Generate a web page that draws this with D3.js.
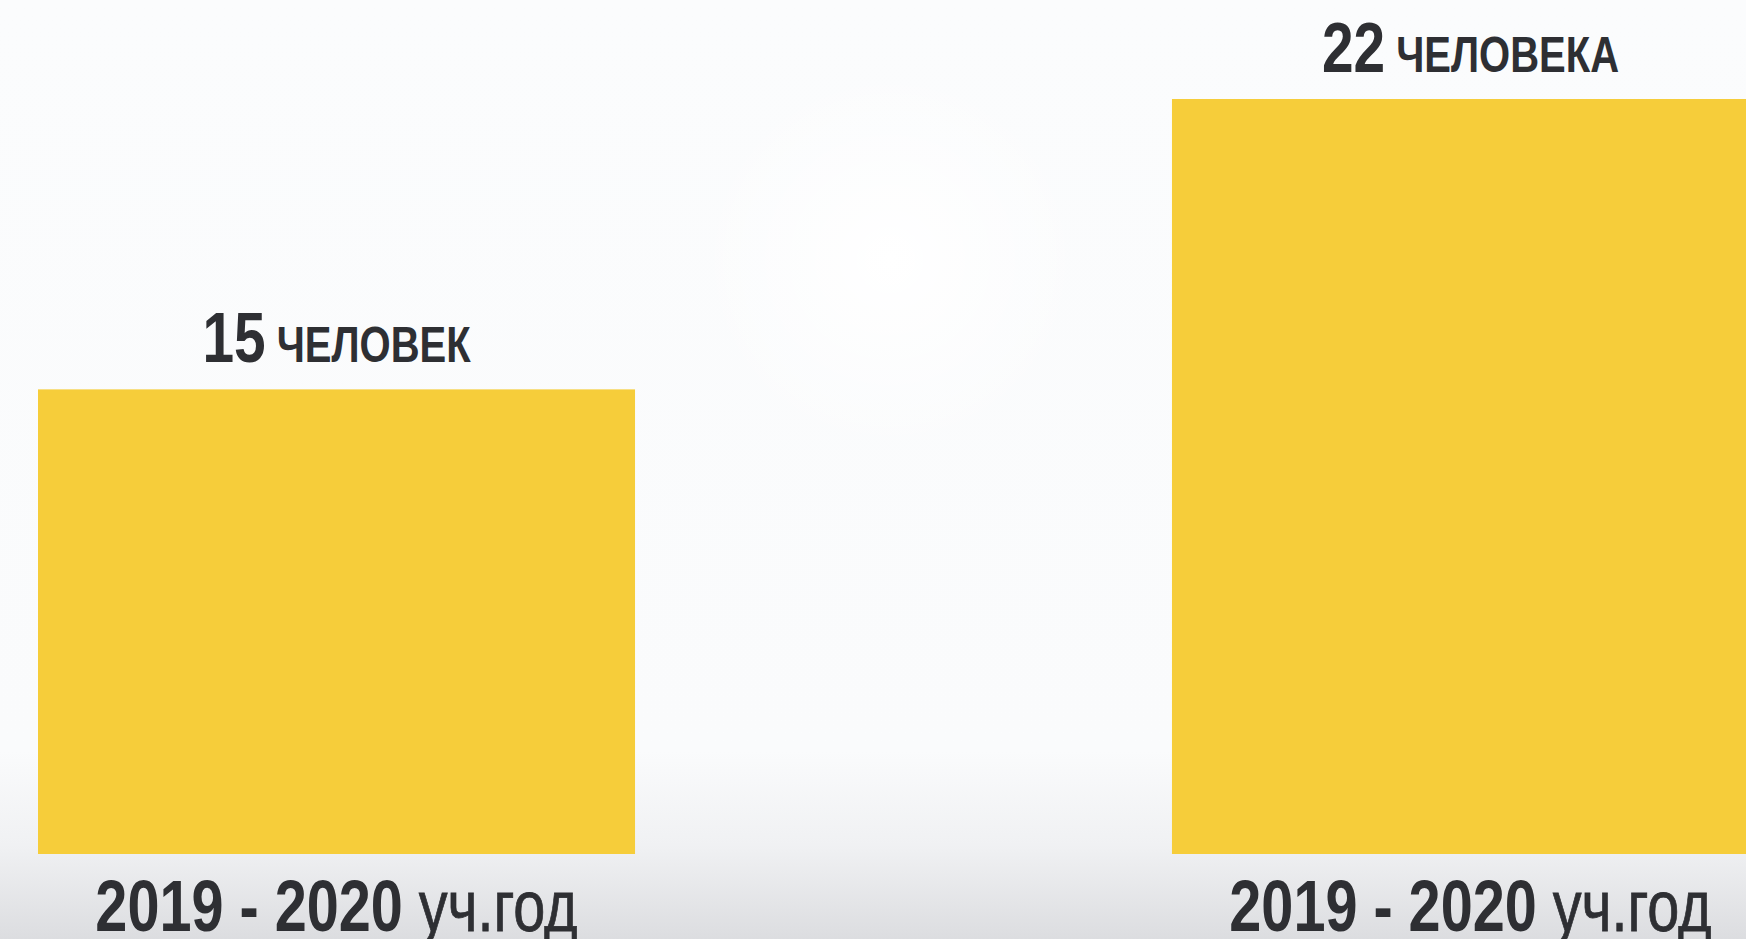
<!DOCTYPE html>
<html>
<head>
<meta charset="utf-8">
<script src="https://cdn.jsdelivr.net/npm/d3@7"></script>
<style>
  html, body { margin: 0; padding: 0; overflow: hidden; background: #fbfcfd; }
</style>
</head>
<body>
<script>
// data
const years = ["2019 - 2020", "2019 - 2020"];
const yearSuffix = ["уч.год", "уч.год"];
const counts = [15, 22];
const countWords = ["человек", "человека"];

const width = 1746, height = 939;
const baseline = 854;
const narrow = 0.8; // squeeze Liberation Sans to look like a narrow face

const svg = d3.select("body").append("svg")
    .attr("width", width)
    .attr("height", height);

// background with grey shading at the bottom
const defs = svg.append("defs");
const bg = defs.append("linearGradient")
    .attr("id", "bg").attr("x1", 0).attr("y1", 0).attr("x2", 0).attr("y2", 1);
bg.append("stop").attr("offset", "0").attr("stop-color", "#fbfcfd");
bg.append("stop").attr("offset", "0.8").attr("stop-color", "#fafbfc");
bg.append("stop").attr("offset", "0.9").attr("stop-color", "#f0f1f3");
bg.append("stop").attr("offset", "1").attr("stop-color", "#dcdde0");

const glow = defs.append("radialGradient").attr("id", "glow");
glow.append("stop").attr("offset", "0").attr("stop-color", "#ffffff").attr("stop-opacity", 1);
glow.append("stop").attr("offset", "1").attr("stop-color", "#ffffff").attr("stop-opacity", 0);

svg.append("rect")
    .attr("width", width).attr("height", height)
    .attr("fill", "url(#bg)");
svg.append("ellipse")
    .attr("cx", 890).attr("cy", 260).attr("rx", 200).attr("ry", 200)
    .attr("fill", "url(#glow)");

const idx = d3.range(counts.length);

// scales
const x = d3.scaleBand()
    .domain(idx)
    .range([38, 1769])
    .paddingInner(0.4735)
    .paddingOuter(0);

const y = d3.scaleLinear()
    .domain([3.8, 22])
    .range([baseline, 99]);

const font = "'Liberation Sans', Arial, sans-serif";

// bars
svg.selectAll(".bar")
    .data(idx)
    .join("rect")
    .attr("class", "bar")
    .attr("x", i => x(i))
    .attr("y", i => y(counts[i]))
    .attr("width", x.bandwidth())
    .attr("height", i => baseline - y(counts[i]))
    .attr("fill", "#f6cd3a");

// value labels
const valLabels = svg.selectAll(".val")
    .data(idx)
    .join("text")
    .attr("class", "val")
    .attr("transform", i => "translate(" + (x(i) + x.bandwidth() / 2) + "," + (y(counts[i]) - 27) + ") scale(" + narrow + ",1)")
    .attr("text-anchor", "middle")
    .style("font-family", font)
    .style("font-weight", "bold")
    .attr("fill", "#2e2f33");
valLabels.append("tspan")
    .style("font-size", "71px")
    .text(i => counts[i]);
valLabels.append("tspan")
    .style("font-size", "50px")
    .text(i => " " + countWords[i].toUpperCase());

// category labels
const catLabels = svg.selectAll(".cat")
    .data(idx)
    .join("text")
    .attr("class", "cat")
    .attr("transform", i => "translate(" + (x(i) + x.bandwidth() / 2) + ",931) scale(" + narrow + ",1)")
    .attr("text-anchor", "middle")
    .style("font-family", font)
    .style("font-weight", "bold")
    .style("font-size", "72px")
    .attr("fill", "#2e2f33");
catLabels.append("tspan").text(i => years[i] + " ");
catLabels.append("tspan")
    .style("font-weight", "normal")
    .style("stroke", "#2e2f33")
    .style("stroke-width", 0.8)
    .text(i => yearSuffix[i]);
</script>
</body>
</html>
